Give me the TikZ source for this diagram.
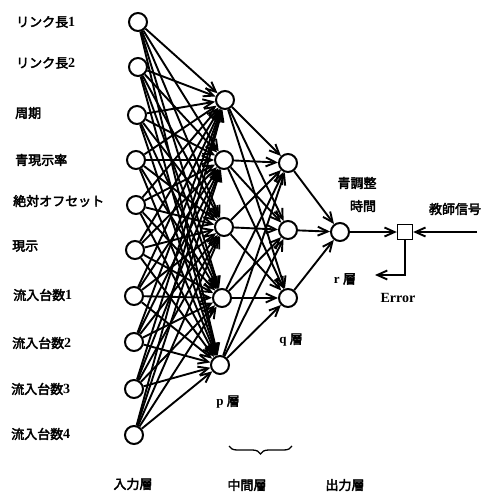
\documentclass[tikz,border=0pt]{standalone}
\usepackage{fontspec}
\setmainfont{Liberation Serif}
\newfontfamily\jp[AutoFakeBold=3]{Noto Sans CJK JP}
\usetikzlibrary{arrows.meta,decorations.pathreplacing}
\begin{document}
\begin{tikzpicture}[x=1pt,y=-1pt,
  neuron/.style={circle,draw,line width=2pt,minimum size=18pt,inner sep=0pt,fill=white},
  conn/.style={line width=1.9pt,-{Straight Barb[length=10pt,width=9pt,line width=1.9pt]}},
  lab/.style={font=\fontsize{13}{14}\selectfont\bfseries,inner sep=0pt},
  jlab/.style={font=\jp\bfseries\fontsize{13}{14}\selectfont,inner sep=0pt}]
\useasboundingbox (0,0) rectangle (491,497);
% input layer
\foreach \i/\x/\y in {1/138/22,2/138/67,3/137/115,4/136/160,5/136/205,6/135/250,7/134/296,8/134/342,9/134/389,10/134/435}
  \node[neuron] (i\i) at (\x,\y) {};
% p layer
\foreach \i/\x/\y in {1/225/100,2/224/160,3/224/227,4/222/298,5/220/365}
  \node[neuron] (p\i) at (\x,\y) {};
% q layer
\foreach \i/\y in {1/163,2/230,3/298}
  \node[neuron] (q\i) at (288,\y) {};
\node[neuron] (r) at (340,232) {};
\node[draw,line width=1.4pt,minimum size=15pt,inner sep=0pt,fill=white] (sq) at (405,232) {};
% connections
\foreach \i in {1,...,10}
  \foreach \j in {1,...,5}
    \draw[conn] (i\i) -- (p\j);
\foreach \i in {1,...,5}
  \foreach \j in {1,2,3}
    \draw[conn] (p\i) -- (q\j);
\foreach \j in {1,2,3}
  \draw[conn] (q\j) -- (r);
\draw[conn,line width=1.4pt] (r) -- (sq);
\coordinate (tin) at (477,232);
\draw[conn,line width=1.4pt] (tin) -- (sq);
\coordinate (ec) at (405,275);
\coordinate (ee) at (375,275);
\draw[conn,line width=1.4pt] (sq.south) -- (ec) -- (ee);
% input labels
\node[jlab,anchor=west] (l1) at (16,22) {リンク長{\rmfamily\bfseries\fontsize{14}{14}\selectfont 1}};
\node[jlab,anchor=west] (l2) at (16,63) {リンク長{\rmfamily\bfseries\fontsize{14}{14}\selectfont 2}};
\node[jlab,anchor=west] (l3) at (15,113) {周期};
\node[jlab,anchor=west] (l4) at (15,160) {青現示率};
\node[jlab,anchor=west] (l5) at (13,201) {絶対オフセット};
\node[jlab,anchor=west] (l6) at (12,246) {現示};
\node[jlab,anchor=west] (l7) at (13,295) {流入台数{\rmfamily\bfseries\fontsize{14}{14}\selectfont 1}};
\node[jlab,anchor=west] (l8) at (12,343) {流入台数{\rmfamily\bfseries\fontsize{14}{14}\selectfont 2}};
\node[jlab,anchor=west] (l9) at (11,389) {流入台数{\rmfamily\bfseries\fontsize{14}{14}\selectfont 3}};
\node[jlab,anchor=west] (l10) at (11,434) {流入台数{\rmfamily\bfseries\fontsize{14}{14}\selectfont 4}};
% layer labels
\node[jlab] (pl) at (228,402) {{\rmfamily\bfseries p }層};
\node[jlab] (ql) at (291,340) {{\rmfamily\bfseries q }層};
\node[jlab] (rl) at (345,279) {{\rmfamily\bfseries r }層};
\node[jlab] (t1) at (357,183) {青調整};
\node[jlab] (t2) at (363,206) {時間};
\node[jlab] (tl) at (455,209) {教師信号};
\node[lab,font=\fontsize{14}{14}\selectfont\bfseries] (err) at (398,298) {Error};
\node[jlab] (inl) at (133,484) {入力層};
\node[jlab] (midl) at (247,485) {中間層};
\node[jlab] (outl) at (345,485) {出力層};
\coordinate (b1) at (229,446);
\coordinate (b2) at (292,446);
\draw[line width=1.3pt,decorate,decoration={brace,mirror,amplitude=8pt}] (b1) -- (b2);
\end{tikzpicture}
\end{document}
